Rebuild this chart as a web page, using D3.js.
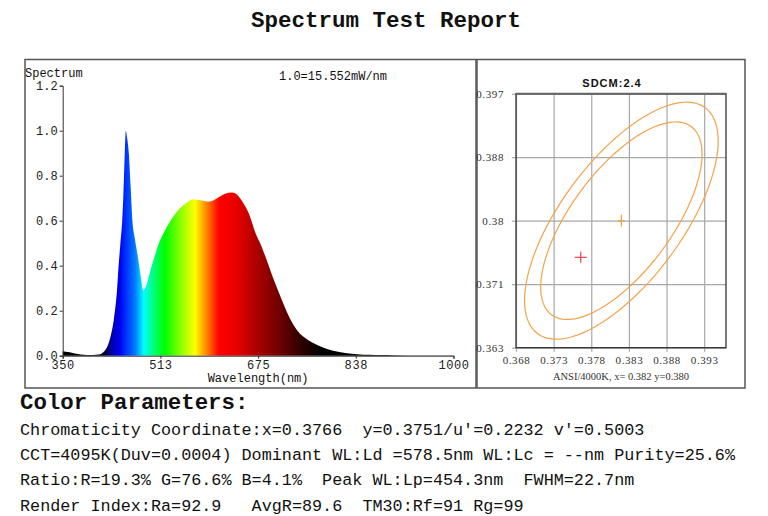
<!DOCTYPE html>
<html>
<head>
<meta charset="utf-8">
<script src="https://cdn.jsdelivr.net/npm/d3@7"></script>
<style>
  body { margin: 0; background: #fff; }
  svg text { fill: #111; }
</style>
</head>
<body>
<div id="chart"></div>
<script>
var width = 768, height = 516
var mono = "'Courier New', 'Liberation Mono', monospace"
var serif = "'Liberation Serif', 'Times New Roman', serif"

// relative spectral power (1.0 = 15.552 mW/nm)
var wavelengths = [350, 355, 360, 370, 380, 390, 400, 410, 415, 420, 425, 430, 435, 440, 443, 446, 449, 451, 453, 455,
  457, 460, 463, 466, 470, 475, 480, 484, 487, 490, 495, 501, 510, 518, 527, 537, 545, 556, 567, 580, 595, 610, 620, 632, 640,
  650, 660, 670, 680, 690, 700, 710, 720, 730, 740, 750, 760, 770, 780, 790, 800, 820, 840, 860, 880, 900, 950, 1000]
var power = [0.02, 0.018, 0.016, 0.01, 0.005, 0.003, 0.003, 0.005, 0.01, 0.022, 0.045, 0.09, 0.16, 0.28, 0.40, 0.50, 0.60, 0.72, 0.88, 1.0,
  0.97, 0.9, 0.75, 0.6, 0.52, 0.44, 0.35, 0.29, 0.30, 0.32, 0.37, 0.425, 0.50, 0.545, 0.59, 0.63, 0.655, 0.68, 0.695, 0.69, 0.685, 0.705, 0.72, 0.725, 0.715,
  0.68, 0.63, 0.55, 0.49, 0.42, 0.345, 0.278, 0.212, 0.155, 0.112, 0.085, 0.067, 0.052, 0.04, 0.03, 0.022, 0.012, 0.007, 0.004, 0.003, 0.002, 0.001, 0.001]

// colour of the fill along the wavelength axis
var stopWl = [350, 400, 420, 432, 445, 455, 470, 485, 500, 520, 550, 570, 580, 595, 610, 640, 670, 710, 745, 780, 1000]
var stopColor = ["#000000", "#000000", "#000030", "#0000b0", "#0000f0", "#0030ff", "#0078ff", "#00ffff", "#00ff80", "#00ff00",
  "#a0ff00", "#ffff00", "#ffc000", "#ff6000", "#ff0000", "#e80000", "#b00000", "#700000", "#300000", "#000000", "#000000"]

var specTicksX = [350, 512.5, 675, 837.5, 1000]
var specLabelsX = ["350", "513", "675", "838", "1000"]
var specTicksY = [0, 0.2, 0.4, 0.6, 0.8, 1.0, 1.2]

// chromaticity panel
var cieTicksX = [0.368, 0.373, 0.378, 0.383, 0.388, 0.393]
var cieLabelsX = ["0.368", "0.373", "0.378", "0.383", "0.388", "0.393"]
var cieTicksY = [0.363, 0.3715, 0.380, 0.3885, 0.397]
var cieLabelsY = ["0.363", "0.371", "0.38", "0.388", "0.397"]
var ansiX = 0.382, ansiY = 0.380
var measX = 0.3766, measY = 0.3751
// 1-step MacAdam ellipse at 4000K, drawn at 5 and 6 steps
var ellA = 0.00313, ellB = 0.00134, ellTheta = 53.72
var ellSteps = [5, 6]

var paramLines = [
  "Chromaticity Coordinate:x=0.3766  y=0.3751/u'=0.2232 v'=0.5003",
  "CCT=4095K(Duv=0.0004) Dominant WL:Ld =578.5nm WL:Lc = --nm Purity=25.6%",
  "Ratio:R=19.3% G=76.6% B=4.1%  Peak WL:Lp=454.3nm  FWHM=22.7nm",
  "Render Index:Ra=92.9   AvgR=89.6  TM30:Rf=91 Rg=99"
]

var svg = d3.select("#chart")
  .append("svg")
    .attr("width", width)
    .attr("height", height)

svg.append("text")
  .attr("x", 386)
  .attr("y", 27)
  .attr("text-anchor", "middle")
  .style("font-family", mono)
  .style("font-weight", "bold")
  .style("font-size", "22.5px")
  .text("Spectrum Test Report")

// panel frames
svg.append("rect")
  .attr("x", 25).attr("y", 59.5)
  .attr("width", 451).attr("height", 328.5)
  .attr("fill", "none").attr("stroke", "#555").attr("stroke-width", 1.5)
svg.append("rect")
  .attr("x", 477).attr("y", 59.5)
  .attr("width", 268).attr("height", 328.5)
  .attr("fill", "none").attr("stroke", "#555").attr("stroke-width", 1.5)

// ---------- spectrum ----------
var x = d3.scaleLinear().domain([350, 1000]).range([62.7, 453.5])
var y = d3.scaleLinear().domain([0, 1.2]).range([355.7, 85.7])

var grad = svg.append("defs").append("linearGradient")
  .attr("id", "specGrad")
  .attr("gradientUnits", "userSpaceOnUse")
  .attr("x1", x(350)).attr("x2", x(1000))
  .attr("y1", 0).attr("y2", 0)
grad.selectAll("stop")
  .data(stopWl)
  .enter()
  .append("stop")
    .attr("offset", function(d) { return (d - 350) / 650 })
    .attr("stop-color", function(d, i) { return stopColor[i] })

var specData = wavelengths.map(function(w, i) { return { wl: w, p: power[i] } })

var area = d3.area()
  .x(function(d) { return x(d.wl) })
  .y0(y(0))
  .y1(function(d) { return y(d.p) })
  .curve(d3.curveMonotoneX)

svg.append("path")
  .datum(specData)
  .attr("d", area)
  .attr("fill", "url(#specGrad)")

var yAxis = svg.append("g")
  .attr("transform", "translate(" + x(350) + ",0)")
  .call(d3.axisLeft(y).tickValues(specTicksY).tickFormat(d3.format(".1f")).tickSize(3).tickPadding(2))
var xAxis = svg.append("g")
  .attr("transform", "translate(0," + y(0) + ")")
  .call(d3.axisBottom(x).tickValues(specTicksX)
    .tickFormat(function(d, i) { return specLabelsX[i] }).tickSize(3).tickPadding(2))

svg.selectAll(".tick text")
  .style("font-family", mono)
  .style("font-size", "12px")
  .style("fill", "#222")
xAxis.selectAll(".tick text").style("letter-spacing", "0.6px")
svg.selectAll(".domain, .tick line").attr("stroke", "#333")

svg.append("text")
  .attr("x", 25).attr("y", 77)
  .style("font-family", mono).style("font-size", "12px")
  .text("Spectrum")
svg.append("text")
  .attr("x", 279).attr("y", 80)
  .style("font-family", mono).style("font-size", "12px")
  .text("1.0=15.552mW/nm")
svg.append("text")
  .attr("x", (x(350) + x(1000)) / 2).attr("y", 382)
  .attr("text-anchor", "middle")
  .style("font-family", mono).style("font-size", "12px")
  .text("Wavelength(nm)")

// ---------- chromaticity (SDCM) ----------
var cx = d3.scaleLinear().domain([0.368, 0.3959]).range([516, 726])
var cy = d3.scaleLinear().domain([0.363, 0.397]).range([347.7, 93.7])

var cie = svg.append("g")

cie.append("g")
  .attr("transform", "translate(0," + cy(0.363) + ")")
  .call(d3.axisBottom(cx).tickValues(cieTicksX).tickSize(4).tickPadding(5)
    .tickFormat(function(d, i) { return cieLabelsX[i] }))
  .call(function(g) { g.select(".domain").remove() })
cie.append("g")
  .attr("transform", "translate(" + cx(0.368) + ",0)")
  .call(d3.axisLeft(cy).tickValues(cieTicksY).tickSize(4).tickPadding(8)
    .tickFormat(function(d, i) { return cieLabelsY[i] }))
  .call(function(g) { g.select(".domain").remove() })

// grid
cie.append("g")
  .attr("transform", "translate(0," + cy(0.363) + ")")
  .call(d3.axisBottom(cx).tickValues(cieTicksX).tickSize(-(cy(0.363) - cy(0.397))).tickFormat(""))
  .call(function(g) { g.select(".domain").remove() })
cie.append("g")
  .attr("transform", "translate(" + cx(0.368) + ",0)")
  .call(d3.axisLeft(cy).tickValues(cieTicksY).tickSize(-(cx(0.3959) - cx(0.368))).tickFormat(""))
  .call(function(g) { g.select(".domain").remove() })

cie.selectAll(".tick line").attr("stroke", "#a8a8a8").attr("stroke-width", 1.2)
cie.selectAll(".tick text")
  .style("font-family", serif)
  .style("font-size", "11px")
  .style("letter-spacing", "0.6px")
  .style("fill", "#333")

cie.append("rect")
  .attr("x", cx(0.368)).attr("y", cy(0.397))
  .attr("width", cx(0.3959) - cx(0.368))
  .attr("height", cy(0.363) - cy(0.397))
  .attr("fill", "none").attr("stroke", "#333").attr("stroke-width", 1.3)
cie.append("line")
  .attr("x1", cx(0.368)).attr("x2", cx(0.3959))
  .attr("y1", cy(0.397)).attr("y2", cy(0.397))
  .attr("stroke", "#666").attr("stroke-width", 2)

var th = ellTheta * Math.PI / 180
var ellLine = d3.line()
  .x(function(t) { return t.x })
  .y(function(t) { return t.y })

cie.selectAll(".ellipse")
  .data(ellSteps)
  .enter()
  .append("path")
    .attr("class", "ellipse")
    .attr("d", function(n) {
      var pts = d3.range(0, 361, 4).map(function(deg) {
        var t = deg * Math.PI / 180
        var u = n * ellA * Math.cos(t), v = n * ellB * Math.sin(t)
        return { x: cx(ansiX + u * Math.cos(th) - v * Math.sin(th)), y: cy(ansiY + u * Math.sin(th) + v * Math.cos(th)) }
      })
      return ellLine(pts)
    })
    .attr("fill", "none")
    .attr("stroke", "#f3a34a")
    .attr("stroke-width", 1.2)

function cross(px, py, w, h, color) {
  cie.append("line")
    .attr("x1", cx(px) - w).attr("x2", cx(px) + w)
    .attr("y1", cy(py)).attr("y2", cy(py))
    .attr("stroke", color).attr("stroke-width", 1.2)
  cie.append("line")
    .attr("x1", cx(px)).attr("x2", cx(px))
    .attr("y1", cy(py) - h).attr("y2", cy(py) + h)
    .attr("stroke", color).attr("stroke-width", 1.2)
}
cross(ansiX, ansiY, 3.5, 6, "#f5a23c")
cross(measX, measY, 6, 5.5, "#e8414e")

svg.append("text")
  .attr("x", 612).attr("y", 87)
  .attr("text-anchor", "middle")
  .style("font-family", "'Liberation Sans', Arial, sans-serif")
  .style("font-weight", "bold")
  .style("font-size", "11px")
  .style("letter-spacing", "1px")
  .text("SDCM:2.4")
svg.append("text")
  .attr("x", 621).attr("y", 380)
  .attr("text-anchor", "middle")
  .style("font-family", serif)
  .style("font-size", "10.5px")
  .style("fill", "#333")
  .style("white-space", "pre")
  .text("ANSI/4000K, x= " + ansiX.toFixed(3) + " y=" + ansiY.toFixed(3))

// ---------- colour parameters ----------
svg.append("text")
  .attr("x", 20).attr("y", 409)
  .style("font-family", mono)
  .style("font-weight", "bold")
  .style("font-size", "22.4px")
  .text("Color Parameters:")

svg.selectAll(".param")
  .data(paramLines)
  .enter()
  .append("text")
    .attr("class", "param")
    .attr("x", 20)
    .attr("y", function(d, i) { return 434.5 + i * 25.4 })
    .style("font-family", mono)
    .style("font-size", "16.8px")
    .style("white-space", "pre")
    .text(function(d) { return d })
</script>
</body>
</html>
